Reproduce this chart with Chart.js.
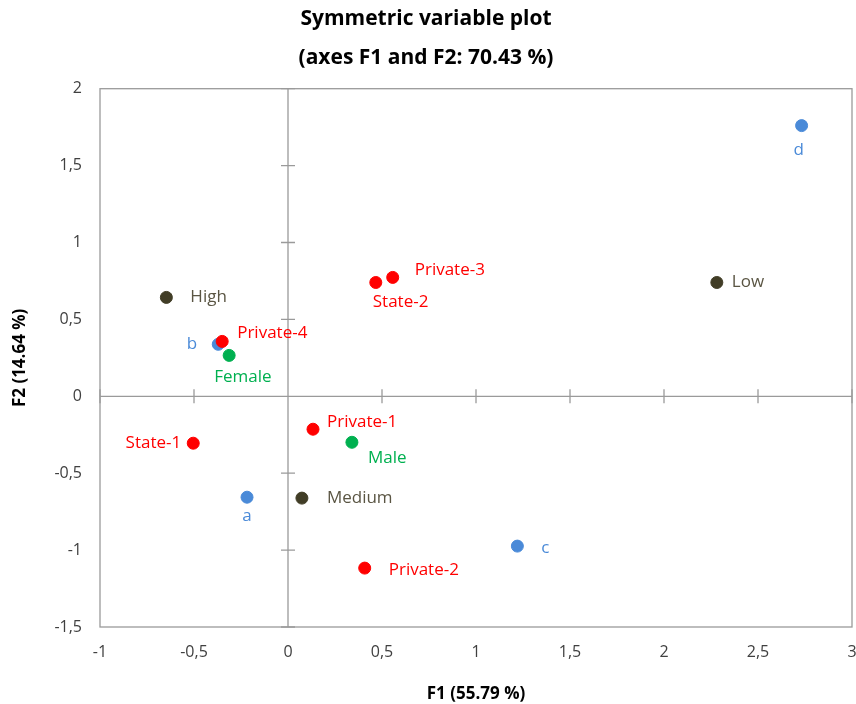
<!DOCTYPE html>
<html>
<head>
<meta charset="utf-8">
<script src="https://cdn.jsdelivr.net/npm/chart.js@4/dist/chart.umd.min.js"></script>
<style>
html,body{margin:0;padding:0;background:#fff;}
#wrap{width:856px;height:704px;}
</style>
</head>
<body>
<div id="wrap"><canvas id="c" width="856" height="704"></canvas></div>
<script>
// ---- data ----
const schoolNames = ['Private-1','Private-2','Private-3','Private-4','State-1','State-2'];
const schoolX = [0.133, 0.408, 0.557, -0.350, -0.504, 0.467];
const schoolY = [-0.214, -1.117, 0.773, 0.357, -0.305, 0.740];

const groupNames = ['a','b','c','d'];
const groupX = [-0.218, -0.371, 1.220, 2.732];
const groupY = [-0.656, 0.338, -0.974, 1.760];

const genderNames = ['Female','Male'];
const genderX = [-0.313, 0.340];
const genderY = [0.266, -0.299];

const levelNames = ['High','Medium','Low'];
const levelX = [-0.647, 0.074, 2.281];
const levelY = [0.643, -0.662, 0.740];

const xTickLabels = ['-1','-0,5','0','0,5','1','1,5','2','2,5','3'];
const yTickLabels = ['-1,5','-1','-0,5','0','0,5','1','1,5','2'];

// label placement (pixel offsets from point, align)
const labelPos = {
  'Private-1':[14,-7,'left'], 'Private-2':[24,2,'left'], 'Private-3':[22,-7,'left'],
  'Private-4':[15,-8,'left'], 'State-1':[-12,0,'right'], 'State-2':[-3,20,'left'],
  'a':[0,19,'center'], 'b':[-21,0,'right'], 'c':[24,2,'left'], 'd':[-3,25,'center'],
  'Female':[-15,22,'left'], 'Male':[16,16,'left'],
  'High':[24,0,'left'], 'Medium':[25,0,'left'], 'Low':[15,0,'left']
};

function pts(xs, ys, names){ return xs.map((x,i)=>({x:x, y:ys[i], name:names[i]})); }

const COL = {red:'#ff0000', blue:'#4a8ad8', green:'#00b050', dark:'#413d26'};
const TXT = {red:'#ff0000', blue:'#4a8ad8', green:'#00b050', dark:'#5a5543'};

const FONT = "'Open Sans', 'Liberation Sans', sans-serif";

const labelPlugin = {
  id:'labels',
  afterDatasetsDraw(chart){
    const ctx = chart.ctx;
    ctx.save();
    ctx.font = '17px ' + FONT;
    ctx.textBaseline = 'middle';
    chart.data.datasets.forEach((ds,di)=>{
      const meta = chart.getDatasetMeta(di);
      meta.data.forEach((el,i)=>{
        const p = ds.data[i];
        const lp = labelPos[p.name] || [10,0,'left'];
        ctx.fillStyle = ds.textColor;
        ctx.textAlign = lp[2];
        ctx.fillText(p.name, el.x + lp[0], el.y + lp[1]);
      });
    });
    ctx.restore();
  }
};

const axesPlugin = {
  id:'axesCross',
  beforeDatasetsDraw(chart){
    const ctx = chart.ctx, a = chart.chartArea;
    const xs = chart.scales.x, ys = chart.scales.y;
    const x0 = xs.getPixelForValue(0), y0 = ys.getPixelForValue(0);
    ctx.save();
    ctx.strokeStyle = '#9a9a9a';
    ctx.lineWidth = 1.3;
    ctx.strokeRect(a.left, a.top, a.right - a.left, a.bottom - a.top);
    ctx.beginPath();
    ctx.moveTo(x0, a.top); ctx.lineTo(x0, a.bottom);
    ctx.moveTo(a.left, y0); ctx.lineTo(a.right, y0);
    ys.ticks.forEach(t=>{
      const py = ys.getPixelForValue(t.value);
      ctx.moveTo(x0-7, py); ctx.lineTo(x0+7, py);
    });
    xs.ticks.forEach(t=>{
      const px = xs.getPixelForValue(t.value);
      ctx.moveTo(px, y0-7); ctx.lineTo(px, y0+7);
    });
    ctx.stroke();
    ctx.restore();
  }
};

function mkDs(label, xs, ys, names, key){
  return {
    label: label,
    data: pts(xs, ys, names),
    backgroundColor: COL[key],
    borderColor: COL[key],
    pointRadius: 6,
    pointHoverRadius: 6,
    textColor: TXT[key]
  };
}

new Chart(document.getElementById('c'), {
  type:'scatter',
  data:{
    datasets:[
      mkDs('Schools', schoolX, schoolY, schoolNames, 'red'),
      mkDs('Groups', groupX, groupY, groupNames, 'blue'),
      mkDs('Gender', genderX, genderY, genderNames, 'green'),
      mkDs('Level', levelX, levelY, levelNames, 'dark')
    ]
  },
  options:{
    responsive:false,
    animation:false,
    layout:{autoPadding:false, padding:{left:0,right:4,top:0,bottom:0}},
    plugins:{
      legend:{display:false},
      tooltip:{enabled:false},
      title:{
        display:true,
        text:['Symmetric variable plot','(axes F1 and F2: 70.43 %)'],
        color:'#000',
        font:{family:FONT, size:21, weight:'bold', lineHeight:1.85},
        padding:{top:0, bottom:11}
      }
    },
    scales:{
      x:{
        type:'linear', min:-1, max:3,
        grid:{display:false, drawTicks:false},
        border:{display:false},
        ticks:{stepSize:0.5, padding:16, color:'#404040',
          font:{family:FONT, size:16},
          callback:(v)=>{ const i = Math.round((v+1)/0.5); return xTickLabels[i]; }},
        title:{display:true, text:'F1 (55.79 %)', color:'#000',
          font:{family:FONT, size:17, weight:'bold'}, padding:{top:8,bottom:0}},
        afterFit:(s)=>{ s.height = 77; s.paddingRight = 0; s.paddingLeft = 0; }
      },
      y:{
        type:'linear', min:-1.5, max:2,
        grid:{display:false, drawTicks:false},
        border:{display:false},
        ticks:{stepSize:0.5, padding:18, color:'#404040',
          font:{family:FONT, size:16},
          callback:(v)=>{ const i = Math.round((v+1.5)/0.5); return yTickLabels[i]; }},
        title:{display:true, text:'F2 (14.64 %)', color:'#000',
          font:{family:FONT, size:17, weight:'bold'}, padding:{top:10,bottom:4}},
        afterFit:(s)=>{ s.width = 100; s.paddingTop = 0; s.paddingBottom = 0; }
      }
    }
  },
  plugins:[axesPlugin, labelPlugin]
});
</script>
</body>
</html>
